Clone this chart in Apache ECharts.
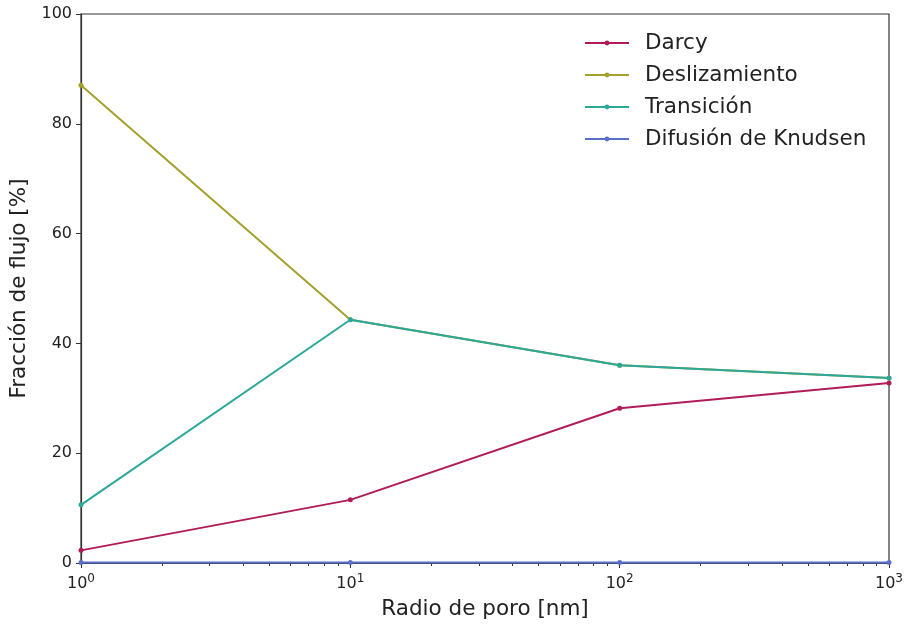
<!DOCTYPE html>
<html><head><meta charset="utf-8">
<script src="https://cdn.jsdelivr.net/npm/echarts@6/dist/echarts.min.js"></script>
<style>html,body{margin:0;padding:0;background:#fff}#c{width:907px;height:624px}</style>
</head><body><div id="c"></div>
<script>
const radios = [1, 10, 100, 1000];
const darcy = [2.3, 11.5, 28.2, 32.8];
const deslizamiento = [87.0, 44.3, 36.0, 33.7];
const transicion = [10.6, 44.3, 36.0, 33.7];
const knudsen = [0.1, 0.1, 0.1, 0.1];
const yTicks = [0, 20, 40, 60, 80, 100];

const names = ['Darcy', 'Deslizamiento', 'Transición', 'Difusión de Knudsen'];
const colors = ['#b01c5a', '#a3a02c', '#2ca89a', '#5a70c8'];
const values = [darcy, deslizamiento, transicion, knudsen];

const chart = echarts.init(document.getElementById('c'));
const font = 'DejaVu Sans';
chart.setOption({
  animation: false,
  textStyle: {fontFamily: font},
  grid: {left: 81, right: 18, top: 14, bottom: 61, show: true, borderColor: '#333', borderWidth: 1.2,
    outerBoundsMode: 'none', containLabel: false},
  legend: {
    orient: 'vertical', left: 579, top: 27, itemGap: 10, itemWidth: 44, itemHeight: 6,
    textStyle: {fontSize: 21.5, color: '#222', fontFamily: font, padding: [0, 0, 0, 11]},
    data: names
  },
  xAxis: {
    type: 'log', logBase: 10, min: 1, max: 1000,
    name: 'Radio de poro [nm]', nameLocation: 'middle', nameGap: 35,
    nameTextStyle: {fontSize: 21.5, color: '#222', fontFamily: font},
    axisLine: {show: true, lineStyle: {color: '#333', width: 1.2}},
    axisTick: {show: true, inside: false, length: 5, lineStyle: {color: '#333'}},
    minorTick: {show: true, splitNumber: 9, length: 3, lineStyle: {color: '#333'}},
    splitLine: {show: false},
    axisLabel: {
      margin: 10, color: '#222', fontSize: 16,
      formatter: v => '10{s|' + Math.round(Math.log10(v)) + '}',
      rich: {s: {fontSize: 12, verticalAlign: 'top', padding: [0, 0, 10, 0], color: '#222'}}
    }
  },
  yAxis: {
    type: 'value', min: 0, max: 100, interval: 20,
    name: 'Fracción de flujo [%]', nameLocation: 'middle', nameGap: 49,
    nameTextStyle: {fontSize: 21.5, color: '#222', fontFamily: font},
    axisLine: {show: true, lineStyle: {color: '#333', width: 1.2}},
    axisTick: {show: true, inside: false, length: 5, lineStyle: {color: '#333'}},
    splitLine: {show: false},
    axisLabel: {color: '#222', fontSize: 16, margin: 9,
      formatter: v => yTicks.includes(v) ? String(v) : ''}
  },
  series: names.map((n, i) => ({
    name: n, type: 'line', data: radios.map((r, j) => [r, values[i][j]]),
    symbol: 'circle', symbolSize: 5, showSymbol: true,
    lineStyle: {color: colors[i], width: 2}, itemStyle: {color: colors[i]},
    z: i === 2 ? 4 : (i === 1 ? 3 : 2)
  }))
});
</script></body></html>
